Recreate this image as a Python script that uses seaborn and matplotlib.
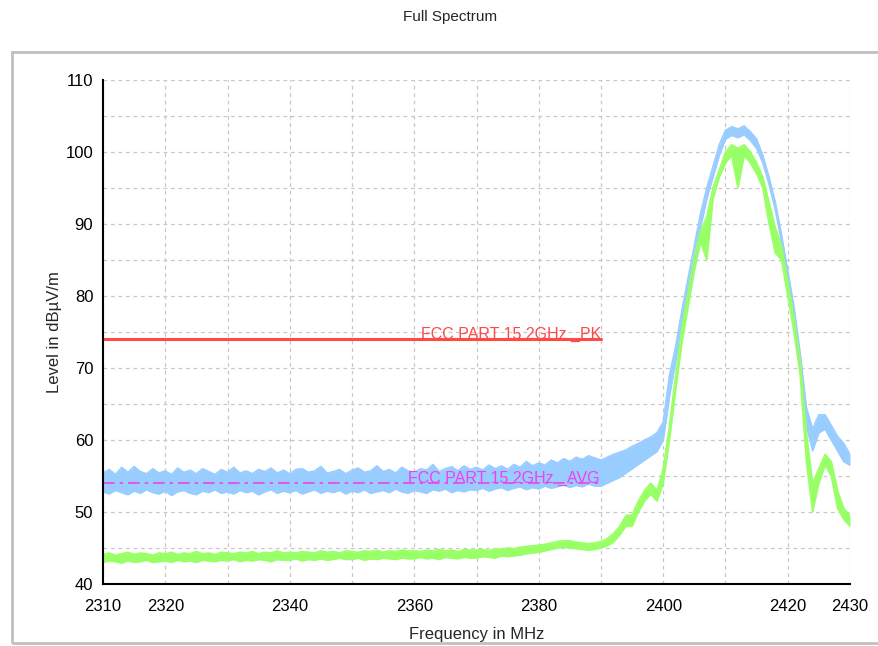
'''
Full spectrum emission plot (peak + average traces with FCC limit lines).
'''
import numpy as np
import pandas as pd

import matplotlib
matplotlib.use('agg')

import matplotlib.pyplot as plt
from matplotlib.patches import Rectangle

import seaborn as sns

# Frequency grid, 1 MHz steps from 2310 to 2430 MHz
freq = np.arange(2310, 2431)

# Peak trace (light blue): lower / upper edge of the noisy band, dBuV/m
peak_lo = [
    52.8, 52.5, 53.0, 52.7, 52.4, 52.9, 52.6, 53.1, 52.7, 52.5,
    52.9, 52.3, 52.8, 53.0, 52.6, 52.4, 52.9, 52.7, 53.1, 52.6,
    52.8, 52.5, 53.0, 52.7, 52.9, 52.4, 52.8, 53.1, 52.6, 52.9,
    52.7, 53.0, 52.5, 52.8, 53.1, 52.6, 52.9, 52.7, 53.0, 52.5,
    52.9, 52.7, 53.1, 52.6, 52.8, 53.0, 52.7, 53.2, 52.8, 52.6,
    53.0, 52.8, 52.6, 53.1, 52.9, 53.2, 52.7, 53.0, 52.8, 53.1,
    53.0, 53.3, 52.9, 53.2, 53.4, 53.0, 53.3, 53.5, 53.1, 53.4,
    53.2, 53.6, 53.3, 53.5, 53.8, 53.4, 53.7, 53.5, 53.9, 53.6,
    53.6, 54.0, 54.4, 54.8, 55.4, 56.0, 56.6, 57.2, 57.8, 58.4,
    60.0, 66.0, 71.0, 76.0, 80.5, 85.0, 89.5, 93.5, 96.5, 99.5,
    101.8, 102.3, 102.0, 102.4, 101.6, 100.5, 98.5, 95.5, 92.0, 87.5,
    82.5, 77.0, 70.0, 62.0, 58.5, 61.0, 61.5, 60.0, 58.5, 57.0,
    56.5,
]
peak_hi = [
    55.4, 55.9, 55.2, 56.2, 55.5, 56.3, 55.6, 55.3, 56.0, 55.4,
    55.7, 55.2, 56.1, 55.5, 55.8, 55.3, 56.0, 55.6, 55.2, 55.9,
    55.5, 56.2, 55.4, 55.7, 55.3, 55.9, 55.6, 56.1, 55.4, 55.8,
    55.3, 55.9, 56.0, 55.5, 55.7, 56.3, 55.4, 55.6, 55.9, 55.3,
    55.8, 56.1, 55.5, 55.7, 56.4, 55.6, 55.9, 55.4, 56.2, 55.7,
    55.5, 56.0, 55.8, 56.6, 55.6, 56.0, 56.3, 55.7, 56.4, 55.9,
    56.2, 55.8, 56.5, 56.0, 56.4, 55.9, 56.6, 56.2, 57.0, 56.4,
    56.8, 56.5, 57.2, 56.8, 57.4, 57.0, 57.6, 57.3, 57.8, 57.5,
    57.2, 57.6, 58.0, 58.3, 58.6, 59.1, 59.5, 60.0, 60.4, 61.0,
    62.5, 69.0, 73.0, 78.0, 82.5, 87.0, 91.5, 95.0, 98.0, 101.0,
    103.0, 103.5, 103.2, 103.6, 102.8, 101.8, 99.5, 96.5, 93.0, 88.5,
    83.5, 78.5, 72.0, 64.5, 61.5, 63.5, 63.5, 62.0, 60.5, 59.5,
    58.0,
]

# Average trace (light green): lower / upper edge of the band
avg_lo = [
    43.0, 43.2, 43.1, 42.9, 43.2, 43.0, 43.1, 43.3, 43.0, 43.1,
    43.2, 43.0, 43.3, 43.1, 43.2, 43.0, 43.3, 43.2, 43.1, 43.3,
    43.2, 43.4, 43.1, 43.3, 43.2, 43.4, 43.3, 43.1, 43.4, 43.3,
    43.3, 43.5, 43.2, 43.4, 43.3, 43.5, 43.3, 43.4, 43.6, 43.4,
    43.4, 43.6, 43.3, 43.5, 43.4, 43.6, 43.5, 43.4, 43.6, 43.5,
    43.5, 43.7, 43.5, 43.6, 43.4, 43.7, 43.6, 43.5, 43.7, 43.6,
    43.6, 43.8, 43.7, 43.6, 43.9, 43.8, 43.9, 44.0, 44.2, 44.3,
    44.4, 44.6, 44.8, 45.0, 45.1, 45.0, 44.9, 44.8, 44.7, 44.8,
    45.0, 45.3, 45.8, 46.8, 48.0, 48.0, 50.0, 51.5, 52.5, 51.5,
    54.0, 60.0, 67.0, 73.5, 78.5, 83.5, 87.5, 85.0, 93.5, 96.5,
    98.5, 99.5, 95.0, 99.5, 98.5, 97.0, 95.0, 90.0, 86.0, 85.0,
    80.0, 75.0, 69.0, 57.0, 50.0, 54.0, 56.5, 55.0, 50.5, 49.0,
    48.0,
]
avg_hi = [
    44.1, 44.3, 44.0, 44.2, 44.4, 44.1, 44.3, 44.2, 44.0, 44.3,
    44.2, 44.4, 44.1, 44.3, 44.2, 44.5, 44.2, 44.3, 44.1, 44.4,
    44.3, 44.2, 44.4, 44.3, 44.5, 44.2, 44.4, 44.3, 44.6, 44.3,
    44.4, 44.3, 44.5, 44.4, 44.3, 44.6, 44.4, 44.5, 44.3, 44.6,
    44.5, 44.4, 44.6, 44.5, 44.7, 44.4, 44.6, 44.5, 44.7, 44.6,
    44.6, 44.5, 44.7, 44.6, 44.8, 44.6, 44.7, 44.5, 44.8, 44.7,
    44.7, 44.8, 44.6, 44.9, 44.8, 45.0, 44.9, 45.1, 45.2, 45.3,
    45.4, 45.5, 45.7, 45.9, 46.0, 46.0, 45.8, 45.7, 45.6, 45.7,
    45.9, 46.3, 47.0, 48.0, 49.5, 49.6, 51.5, 53.0, 54.0, 53.0,
    56.0, 62.0, 69.0, 75.5, 80.5, 85.5, 89.0, 91.0, 95.0, 97.5,
    100.0, 101.0, 100.5, 101.0, 100.0, 98.5, 96.5, 93.0, 89.5, 87.0,
    82.0, 77.0, 71.0, 61.0, 54.0, 56.0, 58.0, 57.0, 53.0, 50.5,
    49.5,
]

# Limit lines
limit_freq = [2310, 2390]
limit_pk = [74, 74]
limit_avg = [54, 54]
pk_label = 'FCC PART 15 2GHz _PK'
avg_label = 'FCC PART 15 2GHz _AVG'

x_ticks = list(range(2310, 2431, 10))
x_labels = ['2310', '2320', '', '2340', '', '2360', '', '2380', '', '2400', '', '2420', '2430']
y_ticks = list(range(40, 111, 5))
y_labels = [str(v) if v % 10 == 0 else '' for v in y_ticks]

BLUE = '#99CCFF'
GREEN = '#99FF66'
RED = '#FF4848'
MAGENTA = '#F040F0'

df = pd.DataFrame({'freq': freq, 'peak_lo': peak_lo, 'peak_hi': peak_hi,
                   'avg_lo': avg_lo, 'avg_hi': avg_hi})
lim = pd.DataFrame({'freq': limit_freq, 'pk': limit_pk, 'avg': limit_avg})

sns.set_style('white')
plt.rcParams['font.family'] = ['Liberation Sans', 'DejaVu Sans']

fig = plt.figure(figsize=(8.79, 6.46), dpi=100)
ax = fig.add_axes([0.1172, 0.0960, 0.8498, 0.7802])

# peak trace band
ax.fill_between(df['freq'], df['peak_lo'], df['peak_hi'], color=BLUE, lw=0)
sns.lineplot(data=df, x='freq', y='peak_lo', color=BLUE, lw=1.2, ax=ax)
sns.lineplot(data=df, x='freq', y='peak_hi', color=BLUE, lw=1.2, ax=ax)

# average trace band
ax.fill_between(df['freq'], df['avg_lo'], df['avg_hi'], color=GREEN, lw=0)
sns.lineplot(data=df, x='freq', y='avg_lo', color=GREEN, lw=1.2, ax=ax)
sns.lineplot(data=df, x='freq', y='avg_hi', color=GREEN, lw=1.2, ax=ax)

# limits
sns.lineplot(data=lim, x='freq', y='pk', color=RED, lw=2.2, ax=ax)
sns.lineplot(data=lim, x='freq', y='avg', color=MAGENTA, lw=1.2, ax=ax)
ax.lines[-1].set_dashes([7, 3, 2, 3])
ax.text(limit_freq[1], limit_pk[1], pk_label, color=RED, fontsize=11.5,
        ha='right', va='baseline')
ax.text(limit_freq[1] - 0.3, limit_avg[1], avg_label, color=MAGENTA, fontsize=11.5,
        ha='right', va='baseline')

ax.set_xlim(2310, 2430)
ax.set_ylim(40, 110)
ax.set_xticks(x_ticks)
ax.set_xticklabels(x_labels)
ax.set_yticks(y_ticks)
ax.set_yticklabels(y_labels)
ax.tick_params(direction='inout', length=10, width=1.5, labelsize=12, colors='black', pad=2)
ax.tick_params(axis='x', pad=6)
ax.grid(True, color='#c8c8c8', lw=0.9, ls=(0, (3, 3)))
ax.set_axisbelow(True)
sns.despine(ax=ax)
for side in ['left', 'bottom']:
    ax.spines[side].set_color('black')
    ax.spines[side].set_linewidth(1.5)

ax.set_xlabel('Frequency in MHz', fontsize=12)
ax.set_ylabel('Level in dBµV/m', fontsize=12)
ax.xaxis.set_label_coords(0.5, -0.085)
ax.yaxis.set_label_coords(-0.055, 0.5)

fig.text(0.512, 0.973, 'Full Spectrum', ha='center', va='center', fontsize=11)
fig.patches.append(Rectangle((0.0137, 0.0046), 1.0, 0.915, transform=fig.transFigure,
                             fill=False, edgecolor='#c0c0c0', lw=2, zorder=10))

fig.savefig('out.png', dpi=100)
plt.close(fig)
